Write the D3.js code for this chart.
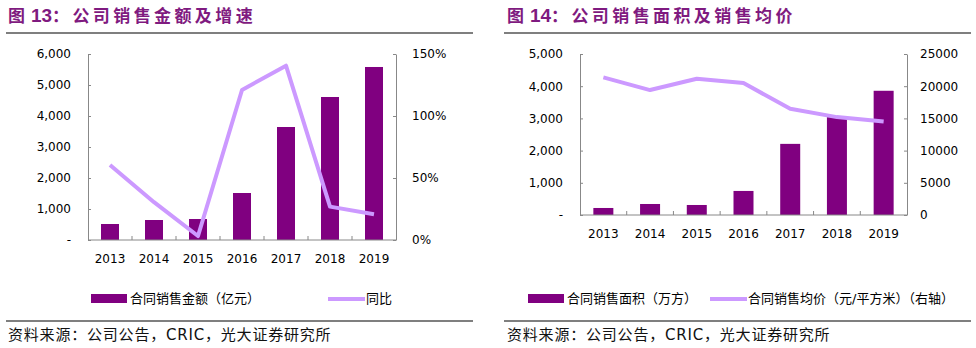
<!DOCTYPE html>
<html>
<head>
<meta charset="utf-8">
<script src="https://cdn.jsdelivr.net/npm/d3@7"></script>
<style>
  body { margin: 0; background: #fff; }
  text { font-family: "DejaVu Sans", "Noto Sans CJK SC", sans-serif; }
</style>
</head>
<body>
<script>
const years = ["2013", "2014", "2015", "2016", "2017", "2018", "2019"];

// 图13
const salesAmount = [516, 645, 677, 1516, 3645, 4613, 5581];   // 亿元
const salesGrowth = [0.605, 0.305, 0.032, 1.21, 1.406, 0.269, 0.207];
const leftTicks13 = [0, 1000, 2000, 3000, 4000, 5000, 6000];
const rightTicks13 = [0, 0.5, 1, 1.5];

// 图14
const salesArea = [218, 342, 311, 747, 2209, 3040, 3858];       // 万方
const avgPrice = [21360, 19400, 21160, 20490, 16490, 15200, 14515]; // 元/平方米
const leftTicks14 = [0, 1000, 2000, 3000, 4000, 5000];
const rightTicks14 = [0, 5000, 10000, 15000, 20000, 25000];

const W = 976, H = 348;
const barColor = "#800080", lineColor = "#cc99ff", titleColor = "#7f1a80";

const svg = d3.select("body").append("svg")
    .attr("width", W)
    .attr("height", H);

const cjk = '"Noto Sans CJK SC", sans-serif';

function panel(o) {
    const g = svg.append("g");

    // title
    const t = g.append("text")
        .attr("x", o.x0 + 8)
        .attr("y", 22)
        .attr("fill", titleColor)
        .attr("font-family", cjk)
        .attr("font-weight", "bold")
        .attr("font-size", "17px");
    t.append("tspan").text("图 ");
    t.append("tspan").attr("font-family", '"Liberation Sans", Arial, sans-serif').attr("font-size", "19px").text(o.num);
    t.append("tspan").attr("letter-spacing", "3.4px").text("：" + o.title);

    // rules
    [33, 321].forEach(y => g.append("line")
        .attr("x1", o.ruleL).attr("x2", o.ruleR)
        .attr("y1", y).attr("y2", y)
        .attr("stroke", "#000").attr("stroke-width", 1.2));

    const x = d3.scaleBand().domain(years).range([o.left, o.right]).paddingInner(0).paddingOuter(0);
    const yL = d3.scaleLinear().domain(o.lDomain).range([o.bottom, o.top]);
    const yR = d3.scaleLinear().domain(o.rDomain).range([o.bottom, o.top]);

    // bars
    g.selectAll("rect.bar")
        .data(o.bars)
        .enter().append("rect")
        .attr("class", "bar")
        .attr("x", (d, i) => x(years[i]) + (x.bandwidth() - o.barW) / 2)
        .attr("y", d => yL(d))
        .attr("width", o.barW)
        .attr("height", d => o.bottom - yL(d))
        .attr("fill", barColor);

    // line
    const line = d3.line()
        .x((d, i) => x(years[i]) + x.bandwidth() / 2)
        .y(d => yR(d));
    g.append("path")
        .datum(o.line)
        .attr("d", line)
        .attr("fill", "none")
        .attr("stroke", lineColor)
        .attr("stroke-width", 4)
        .attr("stroke-linejoin", "round");

    // axes
    const axisColor = "#888";
    const gl = g.append("g")
        .attr("transform", `translate(${o.left},0)`)
        .call(d3.axisLeft(yL).tickValues(o.lTicks).tickSizeInner(-3).tickSizeOuter(0)
            .tickPadding(17).tickFormat(d => d === 0 ? "-" : d3.format(",")(d)));
    const gr = g.append("g")
        .attr("transform", `translate(${o.right},0)`)
        .call(d3.axisRight(yR).tickValues(o.rTicks).tickSizeInner(-3).tickSizeOuter(0)
            .tickPadding(o.rPad).tickFormat(o.rFormat));
    const gx = g.append("g")
        .attr("transform", `translate(0,${o.bottom})`)
        .call(d3.axisBottom(x).tickSize(0).tickPadding(14));
    // category separators on x axis
    gx.selectAll("line.sep")
        .data(years.slice(1))
        .enter().append("line")
        .attr("class", "sep")
        .attr("x1", d => x(d)).attr("x2", d => x(d))
        .attr("y1", 0).attr("y2", -4)
        .attr("stroke", axisColor);
    [gl, gr, gx].forEach(a => {
        a.selectAll("path.domain").attr("stroke", axisColor);
        a.selectAll(".tick line").attr("stroke", axisColor);
        a.selectAll("text").attr("font-size", "12px").attr("fill", "#000")
            .attr("font-family", '"DejaVu Sans", sans-serif');
    });
    gx.selectAll("path.domain").attr("d", `M${o.left},0H${o.right}`);

    // legend
    const ly = 298;
    g.append("rect")
        .attr("x", o.leg1).attr("y", ly - 4)
        .attr("width", 36).attr("height", 9)
        .attr("fill", barColor);
    g.append("text")
        .attr("x", o.leg1 + 39).attr("y", ly + 5)
        .attr("font-family", cjk).attr("font-size", "13px")
        .text(o.leg1Text);
    g.append("line")
        .attr("x1", o.leg2).attr("x2", o.leg2 + 37)
        .attr("y1", ly + 1).attr("y2", ly + 1)
        .attr("stroke", lineColor).attr("stroke-width", 4);
    g.append("text")
        .attr("x", o.leg2 + 38).attr("y", ly + 5)
        .attr("font-family", cjk).attr("font-size", "13px")
        .text(o.leg2Text);

    // source
    g.append("text")
        .attr("x", o.x0 + 8).attr("y", 340)
        .attr("font-family", cjk).attr("font-size", "15px")
        .attr("letter-spacing", "0.8px")
        .attr("fill", "#111")
        .text("资料来源：公司公告，CRIC，光大证券研究所");
}

panel({
    x0: 0, num: "13", title: "公司销售金额及增速",
    ruleL: 6, ruleR: 473,
    left: 88, right: 396, top: 54, bottom: 240,
    lDomain: [0, 6000], rDomain: [0, 1.5],
    lTicks: leftTicks13, rTicks: rightTicks13, rPad: 16,
    rFormat: d3.format(".0%"),
    bars: salesAmount, line: salesGrowth, barW: 18,
    leg1: 91, leg1Text: "合同销售金额（亿元）",
    leg2: 328, leg2Text: "同比"
});

panel({
    x0: 499, num: "14", title: "公司销售面积及销售均价",
    ruleL: 504, ruleR: 971,
    left: 580, right: 907, top: 54, bottom: 215,
    lDomain: [0, 5000], rDomain: [0, 25000],
    lTicks: leftTicks14, rTicks: rightTicks14, rPad: 13,
    rFormat: d => String(d),
    bars: salesArea, line: avgPrice, barW: 20,
    leg1: 528, leg1Text: "合同销售面积（万方）",
    leg2: 710, leg2Text: "合同销售均价（元/平方米）（右轴）"
});
</script>
</body>
</html>
